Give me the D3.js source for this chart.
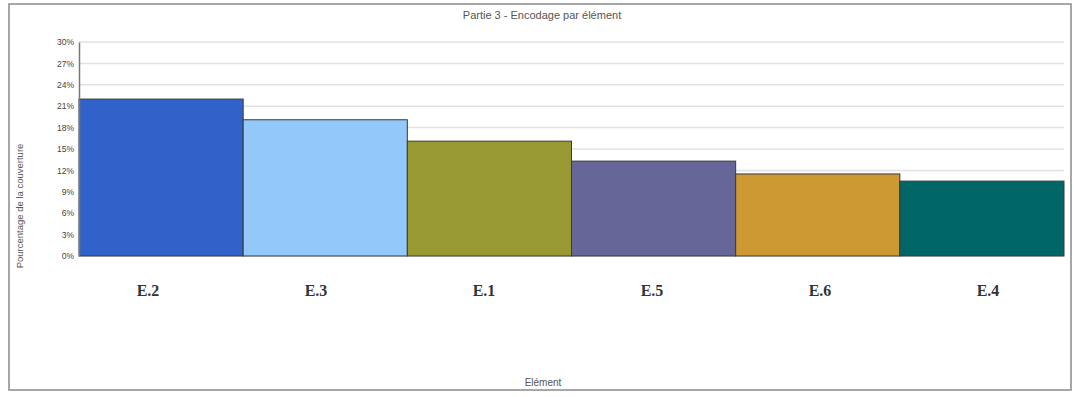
<!DOCTYPE html>
<html>
<head>
<meta charset="utf-8">
<script src="https://cdn.jsdelivr.net/npm/d3@7"></script>
<style>
  body { margin: 0; background: #fff; }
  svg { display: block; }
</style>
</head>
<body>
<svg width="1074" height="397"></svg>
<script>
// data
const elements = ["E.2", "E.3", "E.1", "E.5", "E.6", "E.4"];
const coverage = [22.0, 19.1, 16.1, 13.3, 11.5, 10.5];
const barColors = ["#3162c9", "#93c8fb", "#999933", "#666699", "#cc9933", "#006666"];
const yTicks = [0, 3, 6, 9, 12, 15, 18, 21, 24, 27, 30];

const svg = d3.select("svg"),
    width = +svg.attr("width"),
    height = +svg.attr("height");

const margin = {top: 42, right: 10, bottom: 141, left: 79};
const sans = "Arial, 'Liberation Sans', sans-serif";

// outer frame
svg.append("rect")
    .attr("x", 9).attr("y", 4)
    .attr("width", 1062).attr("height", 386)
    .attr("fill", "none")
    .attr("stroke", "#8a8a8a")
    .attr("stroke-width", 1.5);

const x = d3.scaleBand()
    .domain(elements)
    .range([margin.left, width - margin.right])
    .padding(0);

// the category labels sit on a slightly wider spacing than the bars
const xLabel = d3.scaleBand()
    .domain(elements)
    .range([64, 1072]);

const y = d3.scaleLinear()
    .domain([0, 30])
    .range([height - margin.bottom, margin.top]);

// gridlines
svg.append("g")
    .selectAll("line")
    .data(yTicks)
    .join("line")
      .attr("x1", margin.left)
      .attr("x2", width - margin.right)
      .attr("y1", d => y(d))
      .attr("y2", d => y(d))
      .attr("stroke", "#e2e2e2")
      .attr("stroke-width", 1.5);

// bars
svg.append("g")
    .selectAll("rect")
    .data(elements)
    .join("rect")
      .attr("x", d => x(d))
      .attr("y", (d, i) => y(coverage[i]))
      .attr("width", x.bandwidth())
      .attr("height", (d, i) => y(0) - y(coverage[i]))
      .attr("fill", (d, i) => barColors[i])
      .attr("stroke", "#3a3a3a")
      .attr("stroke-width", 1);

// y axis
const yAxis = svg.append("g")
    .attr("transform", `translate(${margin.left},0)`)
    .call(d3.axisLeft(y).tickValues(yTicks).tickSize(0).tickPadding(5).tickFormat(d => d + "%"));
yAxis.select(".domain").attr("stroke", "#777").attr("stroke-width", 1.5);
yAxis.selectAll("text")
    .attr("font-family", sans)
    .attr("font-size", 8.5)
    .attr("fill", "#444");

// x labels
svg.append("g")
    .selectAll("text")
    .data(elements)
    .join("text")
      .attr("x", d => xLabel(d) + xLabel.bandwidth() / 2)
      .attr("y", 296)
      .attr("text-anchor", "middle")
      .attr("font-family", "'Liberation Serif', 'DejaVu Serif', serif")
      .attr("font-weight", "bold")
      .attr("font-size", 16)
      .attr("fill", "#333")
      .text(d => d);

// title
svg.append("text")
    .attr("x", 542).attr("y", 19)
    .attr("text-anchor", "middle")
    .attr("font-family", sans)
    .attr("font-size", 11)
    .attr("fill", "#555")
    .text("Partie 3 - Encodage par élément");

// axis titles
svg.append("text")
    .attr("x", 543).attr("y", 386)
    .attr("text-anchor", "middle")
    .attr("font-family", sans)
    .attr("font-size", 10)
    .attr("fill", "#555")
    .text("Elément");

svg.append("text")
    .attr("transform", "translate(23,206) rotate(-90)")
    .attr("text-anchor", "middle")
    .attr("font-family", sans)
    .attr("font-size", 9.5)
    .attr("fill", "#555")
    .text("Pourcentage de la couverture");
</script>
</body>
</html>
